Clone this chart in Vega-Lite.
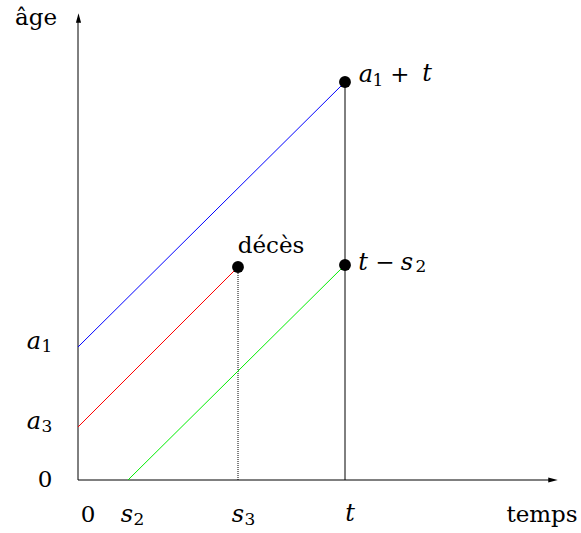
{
  "$schema": "https://vega.github.io/schema/vega-lite/v6.json",
  "width": 581,
  "height": 533,
  "padding": 0,
  "autosize": "none",
  "background": "white",
  "config": {"view": {"stroke": null}},
  "datasets": {
    "lines": [
      {"series": "a1", "t": 0, "age": 133},
      {"series": "a1", "t": 267, "age": 398},
      {"series": "a3", "t": 0, "age": 53},
      {"series": "a3", "t": 160, "age": 213},
      {"series": "s2", "t": 50, "age": 0},
      {"series": "s2", "t": 267, "age": 215}
    ],
    "points": [
      {"t": 267, "age": 398},
      {"t": 160, "age": 213},
      {"t": 267, "age": 215}
    ],
    "axes": [
      {"axis": "x", "t": 0, "age": 0, "t2": 474, "age2": 0},
      {"axis": "y", "t": 0, "age": 0, "t2": 0, "age2": 460}
    ],
    "arrows": [
      {"axis": "x", "t": 475, "age": 0, "shape": "M -1 -0.55 L 1 0 L -1 0.55 Z"},
      {"axis": "y", "t": 0.5, "age": 462, "shape": "M -0.55 1 L 0 -1 L 0.55 1 Z"}
    ],
    "verticals": [
      {"kind": "t", "t": 267, "age": 0, "age2": 398},
      {"kind": "s3", "t": 160, "age": 0, "age2": 213}
    ],
    "italic": [
      {"label": "a", "t": -44, "age": 138},
      {"label": "a", "t": -44, "age": 58},
      {"label": "s", "t": 49, "age": -35},
      {"label": "s", "t": 160, "age": -35},
      {"label": "t", "t": 272, "age": -34},
      {"label": "a", "t": 288, "age": 405},
      {"label": "t", "t": 349, "age": 406},
      {"label": "t", "t": 285, "age": 217},
      {"label": "s", "t": 329, "age": 217}
    ],
    "subs": [
      {"label": "1", "t": -31, "age": 133},
      {"label": "3", "t": -31, "age": 53},
      {"label": "2", "t": 61, "age": -40},
      {"label": "3", "t": 172, "age": -40},
      {"label": "1", "t": 300, "age": 399},
      {"label": "2", "t": 343, "age": 213}
    ],
    "plain": [
      {"label": "0", "t": 10, "age": -35},
      {"label": "0", "t": -33, "age": 0},
      {"label": "âge", "t": -42, "age": 462},
      {"label": "temps", "t": 464, "age": -35},
      {"label": "+", "t": 322, "age": 405},
      {"label": "−", "t": 307, "age": 217},
      {"label": "décès", "t": 193, "age": 234}
    ]
  },
  "layer": [
    {
      "data": {"name": "axes"},
      "mark": {"type": "rule", "color": "#000", "strokeWidth": 1},
      "encoding": {
        "x": {"field": "t", "type": "quantitative", "scale": {"domain": [-78, 503], "nice": false, "zero": false}, "axis": null},
        "y": {"field": "age", "type": "quantitative", "scale": {"domain": [-53, 480], "nice": false, "zero": false}, "axis": null},
        "x2": {"field": "t2"},
        "y2": {"field": "age2"}
      }
    },
    {
      "data": {"name": "arrows"},
      "mark": {"type": "point", "filled": true, "color": "#000", "opacity": 1, "size": 90},
      "encoding": {
        "x": {"field": "t", "type": "quantitative"},
        "y": {"field": "age", "type": "quantitative"},
        "shape": {"field": "shape", "type": "nominal", "scale": null}
      }
    },
    {
      "data": {"name": "verticals"},
      "transform": [{"filter": "datum.kind == 't'"}],
      "mark": {"type": "rule", "color": "#000", "strokeWidth": 1},
      "encoding": {
        "x": {"field": "t", "type": "quantitative"},
        "y": {"field": "age", "type": "quantitative"},
        "y2": {"field": "age2"}
      }
    },
    {
      "data": {"name": "verticals"},
      "transform": [{"filter": "datum.kind == 's3'"}],
      "mark": {"type": "rule", "color": "#000", "strokeWidth": 1, "strokeDash": [1, 1]},
      "encoding": {
        "x": {"field": "t", "type": "quantitative"},
        "y": {"field": "age", "type": "quantitative"},
        "y2": {"field": "age2"}
      }
    },
    {
      "data": {"name": "lines"},
      "mark": {"type": "line", "strokeWidth": 1},
      "encoding": {
        "x": {"field": "t", "type": "quantitative"},
        "y": {"field": "age", "type": "quantitative"},
        "color": {"field": "series", "type": "nominal", "scale": {"domain": ["a1", "a3", "s2"], "range": ["#0000ff", "#ff0000", "#00ee00"]}, "legend": null}
      }
    },
    {
      "data": {"name": "points"},
      "mark": {"type": "circle", "color": "#000", "opacity": 1, "size": 140},
      "encoding": {
        "x": {"field": "t", "type": "quantitative"},
        "y": {"field": "age", "type": "quantitative"}
      }
    },
    {
      "data": {"name": "italic"},
      "mark": {"type": "text", "font": "DejaVu Serif", "fontSize": 24, "fontStyle": "italic", "align": "center", "baseline": "middle", "color": "#000"},
      "encoding": {
        "x": {"field": "t", "type": "quantitative"},
        "y": {"field": "age", "type": "quantitative"},
        "text": {"field": "label"}
      }
    },
    {
      "data": {"name": "subs"},
      "mark": {"type": "text", "font": "DejaVu Serif", "fontSize": 17, "align": "center", "baseline": "middle", "color": "#000"},
      "encoding": {
        "x": {"field": "t", "type": "quantitative"},
        "y": {"field": "age", "type": "quantitative"},
        "text": {"field": "label"}
      }
    },
    {
      "data": {"name": "plain"},
      "mark": {"type": "text", "font": "DejaVu Serif", "fontSize": 23, "align": "center", "baseline": "middle", "color": "#000"},
      "encoding": {
        "x": {"field": "t", "type": "quantitative"},
        "y": {"field": "age", "type": "quantitative"},
        "text": {"field": "label"}
      }
    }
  ]
}
